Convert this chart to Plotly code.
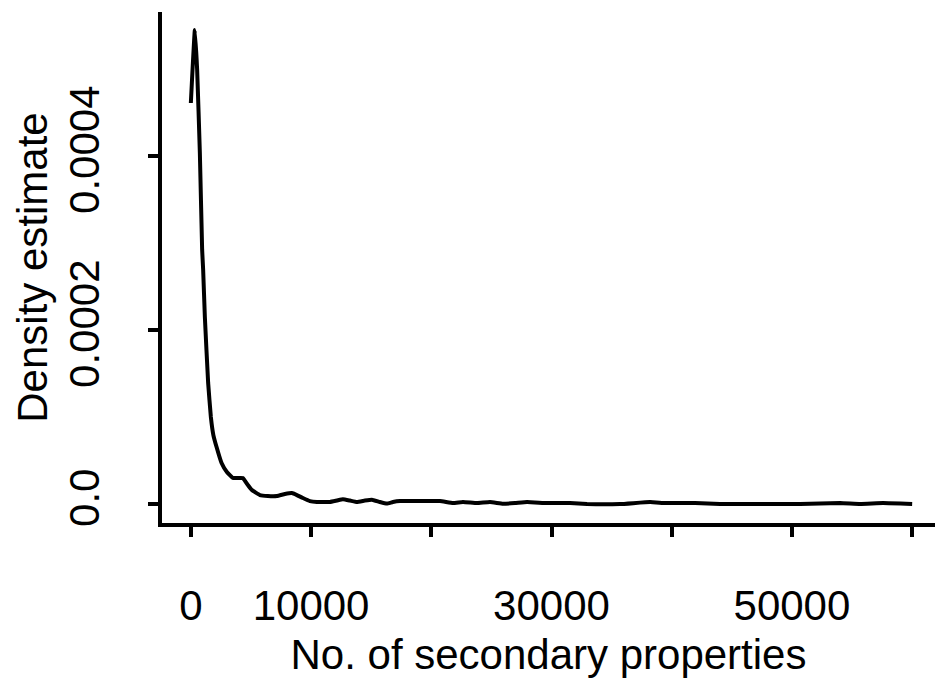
import plotly.graph_objects as go

# Density estimate curve
x_vals = [0, 333, 524, 749, 940, 1024, 1165, 1440, 1664, 1872, 2139, 2555, 2996,
          3495, 3911, 4327, 4743, 5076, 5742, 6408, 7157, 7822, 8405, 8821, 9320,
          9903, 10486, 11068, 11567, 12150, 12649, 13232, 13814, 14480, 15062,
          15728, 16311, 16810, 17393, 18807, 20721, 21803, 22635, 23800, 24882,
          25964, 26962, 27961, 29625, 31540, 32954, 35700, 38197, 39445, 40693,
          41941, 44022, 50680, 54009, 55673, 57587, 60000]
y_vals = [4.609e-4, 5.448e-4, 4.989e-4, 4.034e-4, 2.920e-4, 2.690e-4, 2.149e-4,
          1.391e-4, 1.000e-4, 0.793e-4, 0.655e-4, 0.471e-4, 0.368e-4, 0.299e-4,
          0.299e-4, 0.299e-4, 0.218e-4, 0.161e-4, 0.103e-4, 0.092e-4, 0.092e-4,
          0.115e-4, 0.126e-4, 0.103e-4, 0.069e-4, 0.034e-4, 0.023e-4, 0.023e-4,
          0.023e-4, 0.040e-4, 0.055e-4, 0.040e-4, 0.023e-4, 0.040e-4, 0.050e-4,
          0.023e-4, 0.005e-4, 0.023e-4, 0.034e-4, 0.034e-4, 0.034e-4, 0.011e-4,
          0.023e-4, 0.011e-4, 0.023e-4, 0.003e-4, 0.011e-4, 0.023e-4, 0.011e-4,
          0.011e-4, 0.0, 0.0, 0.023e-4, 0.011e-4, 0.011e-4, 0.011e-4, 0.0, 0.0,
          0.011e-4, 0.0, 0.011e-4, 0.0]

x_tickvals = [0, 10000, 20000, 30000, 40000, 50000, 60000]
x_ticktext = ["0", "10000", "", "30000", "", "50000", ""]
y_tickvals = [0.0, 0.0002, 0.0004]
y_ticktext = ["0.0", "0.0002", "0.0004"]

FONT = "Liberation Sans, Arial, sans-serif"
FS = 42

fig = go.Figure()
fig.add_trace(go.Scatter(x=x_vals, y=y_vals, mode="lines",
                         line=dict(color="black", width=4, shape="spline", smoothing=0.3),
                         showlegend=False, hoverinfo="skip"))

fig.update_layout(
    width=935, height=681,
    margin=dict(l=162, r=0, t=12, b=158, autoexpand=False),
    paper_bgcolor="white", plot_bgcolor="white",
    font=dict(family=FONT, size=FS, color="black"),
    xaxis=dict(
        range=[-2400, 61900], showgrid=False, zeroline=False,
        showline=True, linecolor="black", linewidth=4,
        ticks="outside", ticklen=10, tickwidth=3.5, tickcolor="black",
        tickvals=x_tickvals, ticktext=x_ticktext,
        tickfont=dict(family=FONT, size=FS, color="black"),
        ticklabelstandoff=33,
        title=dict(text="No. of secondary properties", standoff=12,
                   font=dict(family=FONT, size=FS, color="black")),
    ),
    yaxis=dict(
        range=[-2.18e-5, 5.655e-4], showgrid=False, zeroline=False,
        showline=True, linecolor="black", linewidth=4,
        ticks="outside", ticklen=10, tickwidth=3.5, tickcolor="black",
        tickvals=y_tickvals, ticktext=y_ticktext, tickangle=-90,
        tickfont=dict(family=FONT, size=FS, color="black"),
        ticklabelstandoff=32,
        title=dict(text="Density estimate", standoff=2,
                   font=dict(family=FONT, size=FS, color="black")),
    ),
)

fig.write_html("out.html")
